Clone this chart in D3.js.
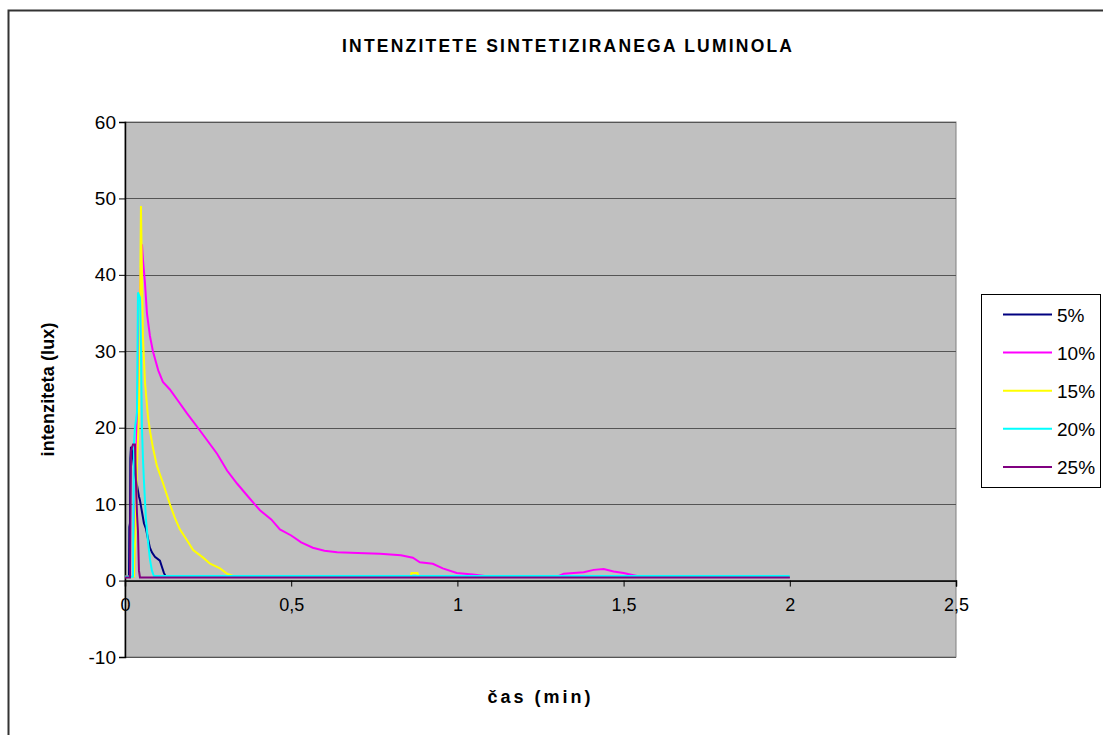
<!DOCTYPE html>
<html>
<head>
<meta charset="utf-8">
<script src="https://cdn.jsdelivr.net/npm/d3@7"></script>
<style>
  html, body { margin: 0; padding: 0; background: #ffffff; }
  svg { display: block; font-family: "Liberation Sans", Arial, sans-serif; }
</style>
</head>
<body>
<svg id="chart" width="1103" height="735"></svg>
<script>
// Time (min) and intensity (lux) samples for each luminol concentration
const time5  = [0, 0.012, 0.013, 0.015, 0.016, 0.018, 0.021, 0.024, 0.030, 0.036, 0.042, 0.045, 0.051, 0.057, 0.063, 0.069, 0.075, 0.081, 0.090, 0.105, 0.111, 0.117, 0.123, 2.0];
const lux5   = [0.5, 0.5, 7.0, 7.5, 16.0, 17.5, 17.0, 16.0, 14.0, 12.5, 11.0, 10.5, 9.0, 7.5, 6.8, 5.5, 4.3, 3.7, 3.1, 2.6, 1.8, 1.0, 0.5, 0.5];

const time10 = [0, 0.027, 0.033, 0.036, 0.045, 0.051, 0.054, 0.060, 0.066, 0.075, 0.084, 0.100, 0.114, 0.135, 0.160, 0.186, 0.226, 0.277, 0.307, 0.337, 0.370, 0.406, 0.440, 0.466, 0.500, 0.530, 0.565, 0.600, 0.638, 0.700, 0.767, 0.830, 0.866, 0.887, 0.926, 0.956, 0.998, 1.047, 1.100, 1.300, 1.320, 1.380, 1.410, 1.440, 1.470, 1.500, 1.520, 1.550, 2.0];
const lux10  = [0.5, 0.5, 13.0, 20.0, 38.0, 44.0, 42.0, 39.0, 35.0, 32.0, 30.0, 27.5, 26.0, 25.0, 23.5, 21.9, 19.6, 16.6, 14.4, 12.7, 11.0, 9.2, 8.0, 6.7, 5.9, 5.0, 4.3, 3.9, 3.7, 3.6, 3.5, 3.3, 3.0, 2.4, 2.2, 1.6, 1.0, 0.8, 0.5, 0.5, 0.9, 1.1, 1.4, 1.5, 1.2, 1.0, 0.8, 0.5, 0.5];

const time15 = [0, 0.027, 0.033, 0.036, 0.042, 0.045, 0.048, 0.051, 0.054, 0.060, 0.069, 0.075, 0.084, 0.096, 0.114, 0.135, 0.150, 0.165, 0.186, 0.205, 0.235, 0.256, 0.286, 0.307, 0.325, 0.860, 0.862, 0.880, 0.882, 2.0];
const lux15  = [0.5, 0.5, 8.8, 15.0, 22.0, 35.0, 49.0, 40.0, 32.0, 26.0, 21.5, 19.6, 17.4, 15.0, 12.8, 10.0, 8.2, 6.7, 5.3, 4.0, 3.0, 2.2, 1.6, 0.9, 0.6, 0.6, 1.0, 1.0, 0.6, 0.6];

const time20 = [0, 0.024, 0.027, 0.030, 0.036, 0.039, 0.045, 0.048, 0.051, 0.054, 0.057, 0.063, 0.069, 0.075, 0.081, 0.087, 2.0];
const lux20  = [0.5, 0.5, 18.0, 20.0, 22.0, 37.7, 37.0, 30.0, 20.0, 16.0, 13.0, 8.0, 5.2, 2.8, 1.3, 0.6, 0.6];

const time25 = [0, 0.015, 0.018, 0.024, 0.030, 0.033, 0.036, 0.039, 0.042, 0.045, 2.0];
const lux25  = [0.4, 0.4, 17.0, 17.8, 17.8, 13.0, 8.8, 6.5, 1.3, 0.4, 0.4];

const seriesNames  = ["5%", "10%", "15%", "20%", "25%"];
const seriesColors = ["#000080", "#FF00FF", "#FFFF00", "#00FFFF", "#800080"];
const seriesTimes  = [time5, time10, time15, time20, time25];
const seriesLux    = [lux5, lux10, lux15, lux20, lux25];

const xTicks = [0, 0.5, 1, 1.5, 2, 2.5];
const yTicks = [-10, 0, 10, 20, 30, 40, 50, 60];

const chartTitle = "INTENZITETE SINTETIZIRANEGA LUMINOLA";
const xTitle = "čas (min)";
const yTitle = "intenziteta (lux)";

const FONT = "'Liberation Sans', Arial, sans-serif";
const svg = d3.select("#chart");

// outer chart frame
svg.append("rect")
  .attr("x", 8.5).attr("y", 10.5)
  .attr("width", 1200).attr("height", 1000)
  .attr("fill", "#ffffff")
  .attr("stroke", "#333333").attr("stroke-width", 2);

const x = d3.scaleLinear().domain([0, 2.5]).range([125, 956]);
const y = d3.scaleLinear().domain([-10, 60]).range([657, 122]);

// plot area
svg.append("rect")
  .attr("x", x(0)).attr("y", y(60))
  .attr("width", x(2.5) - x(0)).attr("height", y(-10) - y(60))
  .attr("fill", "#C0C0C0")
  .attr("stroke", "#808080").attr("stroke-width", 1);

// horizontal gridlines
svg.append("g")
  .selectAll("line")
  .data(yTicks)
  .join("line")
  .attr("x1", x(0)).attr("x2", x(2.5))
  .attr("y1", d => Math.round(y(d)) + 0.5).attr("y2", d => Math.round(y(d)) + 0.5)
  .attr("stroke", "#555555").attr("stroke-width", 1);

// y axis
const yAxis = svg.append("g")
  .attr("transform", `translate(${x(0)},0)`)
  .call(d3.axisLeft(y).tickValues(yTicks).tickFormat(d => String(d)).tickSize(6).tickPadding(3));
yAxis.select(".domain").attr("stroke", "#000").attr("stroke-width", 1.5);
yAxis.selectAll(".tick line").attr("stroke", "#000");
yAxis.selectAll("text").attr("font-size", 19).attr("fill", "#000").attr("font-family", FONT);

// x axis drawn at zero intensity
const xAxis = svg.append("g")
  .attr("transform", `translate(0,${y(0)})`)
  .call(d3.axisBottom(x).tickValues(xTicks).tickFormat(d => String(d).replace(".", ",")).tickSize(6).tickPadding(12));
xAxis.select(".domain").attr("stroke", "#000").attr("stroke-width", 1.5);
xAxis.selectAll(".tick line").attr("stroke", "#000");
xAxis.selectAll("text").attr("font-size", 18).attr("fill", "#000").attr("font-family", FONT);

// intensity curves
const line = d3.line()
  .x(d => x(d[0]))
  .y(d => y(d[1]));

svg.append("g")
  .selectAll("path")
  .data(seriesNames.map((name, i) => ({
    name,
    color: seriesColors[i],
    points: seriesTimes[i].map((t, j) => [t, seriesLux[i][j]])
  })))
  .join("path")
  .attr("d", d => line(d.points))
  .attr("fill", "none")
  .attr("stroke", d => d.color)
  .attr("stroke-width", 2)
  .attr("stroke-linejoin", "miter");

// title
svg.append("text")
  .attr("x", 567).attr("y", 52)
  .attr("text-anchor", "middle")
  .attr("font-size", 17.5).attr("font-weight", "bold")
  .attr("textLength", 450).attr("lengthAdjust", "spacing")
  .text(chartTitle);

// axis titles
svg.append("text")
  .attr("x", 539).attr("y", 703)
  .attr("text-anchor", "middle")
  .attr("font-size", 18).attr("font-weight", "bold")
  .attr("textLength", 103).attr("lengthAdjust", "spacing")
  .text(xTitle);

svg.append("text")
  .attr("transform", `translate(54,${y(25)}) rotate(-90)`)
  .attr("text-anchor", "middle")
  .attr("font-size", 18).attr("font-weight", "bold")
  .attr("textLength", 134).attr("lengthAdjust", "spacing")
  .text(yTitle);

// legend
const legend = svg.append("g");
legend.append("rect")
  .attr("x", 981.5).attr("y", 294.5)
  .attr("width", 119).attr("height", 193)
  .attr("fill", "#ffffff")
  .attr("stroke", "#000").attr("stroke-width", 1);

const items = legend.selectAll("g.item")
  .data(seriesNames)
  .join("g")
  .attr("class", "item")
  .attr("transform", (d, i) => `translate(0,${314.5 + i * 38.1})`);
items.append("line")
  .attr("x1", 1003).attr("x2", 1052)
  .attr("y1", 0).attr("y2", 0)
  .attr("stroke", (d, i) => seriesColors[i])
  .attr("stroke-width", 2);
items.append("text")
  .attr("x", 1057).attr("y", 7)
  .attr("font-size", 19)
  .text(d => d);
</script>
</body>
</html>
